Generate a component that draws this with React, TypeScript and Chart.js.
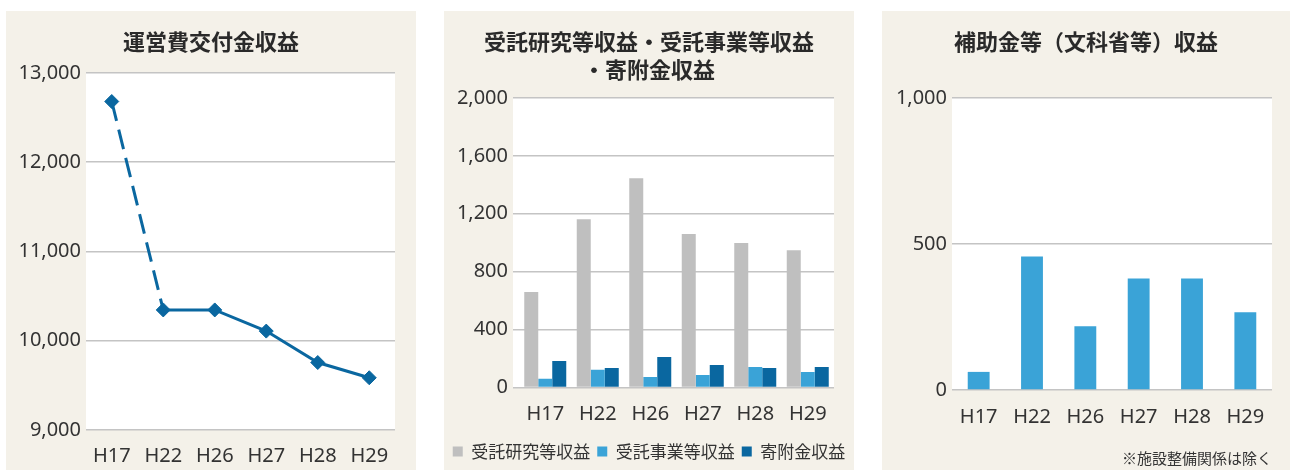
import React, { useEffect, useRef } from 'react';
import { Chart, registerables } from 'chart.js';

Chart.register(...registerables);

// ---- data ----
const years = ['H17', 'H22', 'H26', 'H27', 'H28', 'H29'];
const operatingGrant = [12680, 10345, 10345, 10108, 9756, 9585];
const researchRevenue = [660, 1162, 1445, 1060, 997, 948];
const projectRevenue = [60, 123, 72, 86, 141, 107];
const donationRevenue = [183, 134, 210, 155, 134, 141];
const subsidyRevenue = [62, 457, 218, 382, 382, 266];

const seriesNames = ['受託研究等収益', '受託事業等収益', '寄附金収益'];
const title1 = '運営費交付金収益';
const title2 = ['受託研究等収益・受託事業等収益', '・寄附金収益'];
const title3 = '補助金等（文科省等）収益';
const footnote = '※施設整備関係は除く';

const range1 = [9000, 13000, 1000];
const range2 = [0, 2000, 400];
const range3 = [0, 1000, 500];

// ---- styles ----
const PANEL_BG = '#f4f1e9';
const GRID = '#c4c4c4';
const TEXT = '#333333';
const TITLE_COLOR = '#2a2a2a';
const DARK_BLUE = '#0a67a0';
const LIGHT_BLUE = '#3aa3d7';
const GRAY = '#bfbfbf';

const TICK_FONT = { family: '"Noto Sans", "Noto Sans CJK JP", sans-serif', size: 20 };
const TITLE_FONT = { family: '"Noto Sans CJK JP", sans-serif', size: 22, weight: 'bold' as const, lineHeight: 1.27 };
const LEGEND_FONT = { family: '"Noto Sans CJK JP", sans-serif', size: 17 };
const NOTE_FONT = { family: '"Noto Sans CJK JP", sans-serif', size: 15, lineHeight: 1.2 };

const fmt = (v: any) => Number(v).toLocaleString('en-US');

const plotBg = {
  id: 'plotBg',
  beforeDraw(chart: any, _args: any, opts: any) {
    const { ctx, chartArea: a } = chart;
    const ext = (opts && opts.extendLeft) || 0;
    ctx.save();
    ctx.fillStyle = '#ffffff';
    ctx.fillRect(a.left - ext, a.top, a.right - a.left + ext, a.bottom - a.top);
    ctx.restore();
  },
};

const spacer = (w: number) => ({
  position: 'right',
  display: true,
  grid: { display: false },
  border: { display: false },
  ticks: { display: false },
  afterFit: (s: any) => { s.width = w; },
});

function config1(): any {
  return {
    type: 'line',
    data: {
      labels: years,
      datasets: [
        {
          data: operatingGrant,
          borderColor: DARK_BLUE,
          backgroundColor: DARK_BLUE,
          borderWidth: 3,
          borderCapStyle: 'butt',
          pointStyle: 'rectRot',
          pointRadius: 7,
          pointBorderWidth: 1,
          pointBackgroundColor: DARK_BLUE,
          pointBorderColor: DARK_BLUE,
          segment: {
            borderDash: (c: any) => (c.p0DataIndex === 0 ? [20, 9] : []),
          },
        },
      ],
    },
    options: {
      animation: false,
      responsive: false,
      devicePixelRatio: 1,
      layout: { padding: 0 },
      plugins: {
        legend: { display: false },
        tooltip: { enabled: false },
        title: {
          display: true,
          text: title1,
          font: TITLE_FONT,
          color: TITLE_COLOR,
          padding: { top: 17, bottom: 17 },
        },
      },
      scales: {
        x: {
          offset: true,
          grid: { display: false },
          border: { display: false },
          ticks: { font: TICK_FONT, color: TEXT, padding: 6, maxRotation: 0 },
          afterFit: (s: any) => { s.height = 40; },
        },
        y: {
          min: range1[0],
          max: range1[1],
          ticks: { stepSize: range1[2], callback: fmt, font: TICK_FONT, color: TEXT, padding: 5 },
          grid: { color: GRID, lineWidth: 1.5, drawTicks: false },
          border: { display: false },
          afterFit: (s: any) => { s.width = 80; },
        },
        spacer: spacer(21),
      },
    },
    plugins: [plotBg],
  };
}

function config2(): any {
  const mk = (label: string, data: number[], color: string) => ({
    label,
    data,
    backgroundColor: color,
    borderWidth: 0,
    barPercentage: 1,
    categoryPercentage: 0.8,
  });
  return {
    type: 'bar',
    data: {
      labels: years,
      datasets: [
        mk(seriesNames[0], researchRevenue, GRAY),
        mk(seriesNames[1], projectRevenue, LIGHT_BLUE),
        mk(seriesNames[2], donationRevenue, DARK_BLUE),
      ],
    },
    options: {
      animation: false,
      responsive: false,
      devicePixelRatio: 1,
      layout: { padding: 0 },
      plugins: {
        plotBg: { extendLeft: 6 },
        tooltip: { enabled: false },
        title: {
          display: true,
          text: title2,
          font: TITLE_FONT,
          color: TITLE_COLOR,
          padding: { top: 17, bottom: 14 },
        },
        legend: {
          display: true,
          position: 'bottom',
          labels: {
            boxWidth: 10,
            boxHeight: 10,
            padding: 7,
            font: LEGEND_FONT,
            color: TEXT,
          },
        },
      },
      scales: {
        x: {
          grid: { display: false },
          border: { display: false },
          ticks: { font: TICK_FONT, color: TEXT, padding: 6.5, maxRotation: 0 },
          afterFit: (s: any) => { s.height = 48.5; },
        },
        y: {
          min: range2[0],
          max: range2[1],
          ticks: { stepSize: range2[2], callback: fmt, font: TICK_FONT, color: TEXT, padding: 5 },
          grid: { color: GRID, lineWidth: 1.5, drawTicks: true, tickLength: 6 },
          border: { display: false },
          afterFit: (s: any) => { s.width = 75; },
        },
        spacer: spacer(20),
      },
    },
    plugins: [plotBg],
  };
}

function config3(): any {
  return {
    type: 'bar',
    data: {
      labels: years,
      datasets: [
        {
          data: subsidyRevenue,
          backgroundColor: LIGHT_BLUE,
          borderWidth: 0,
          barPercentage: 0.41,
          categoryPercentage: 1,
        },
      ],
    },
    options: {
      animation: false,
      responsive: false,
      devicePixelRatio: 1,
      layout: { padding: 0 },
      plugins: {
        legend: { display: false },
        tooltip: { enabled: false },
        title: {
          display: true,
          text: title3,
          font: TITLE_FONT,
          color: TITLE_COLOR,
          padding: { top: 17, bottom: 42 },
        },
      },
      scales: {
        x: {
          grid: { display: false },
          border: { display: false },
          ticks: { font: TICK_FONT, color: TEXT, padding: 7, maxRotation: 0 },
          title: {
            display: true,
            text: footnote,
            align: 'end',
            font: NOTE_FONT,
            color: TEXT,
            padding: { top: 0, bottom: 3 },
          },
          afterFit: (s: any) => { s.height = 80; },
        },
        y: {
          min: range3[0],
          max: range3[1],
          ticks: { stepSize: range3[2], callback: fmt, font: TICK_FONT, color: TEXT, padding: 5 },
          grid: { color: GRID, lineWidth: 1.5, drawTicks: false },
          border: { display: false },
          afterFit: (s: any) => { s.width = 70; },
        },
        spacer: spacer(18),
      },
    },
    plugins: [plotBg],
  };
}

function Panel({ left, width, make }: { left: number; width: number; make: () => any }) {
  const ref = useRef<HTMLCanvasElement | null>(null);
  useEffect(() => {
    if (!ref.current) return;
    const chart = new Chart(ref.current, make());
    return () => chart.destroy();
  }, []);
  return (
    <div
      style={{
        position: 'absolute',
        left,
        top: 11,
        width,
        height: 459,
        background: PANEL_BG,
      }}
    >
      <canvas ref={ref} width={width} height={459} style={{ display: 'block', width, height: 459 }} />
    </div>
  );
}

export default function App() {
  return (
    <div
      style={{
        position: 'fixed',
        left: 0,
        top: 0,
        width: 1290,
        height: 470,
        background: '#ffffff',
        overflow: 'hidden',
      }}
    >
      <Panel left={6} width={410} make={config1} />
      <Panel left={444} width={410} make={config2} />
      <Panel left={882} width={408} make={config3} />
    </div>
  );
}
